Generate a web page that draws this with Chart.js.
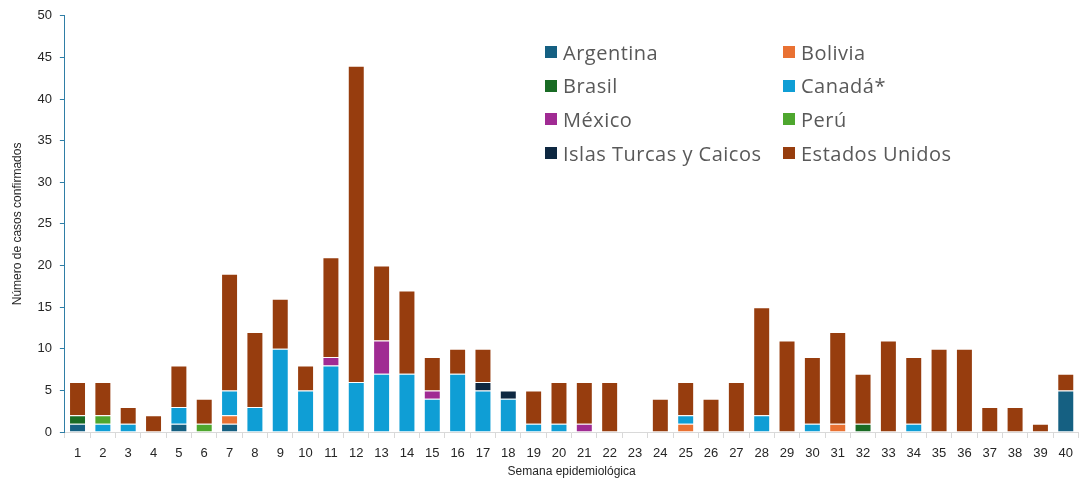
<!DOCTYPE html>
<html>
<head>
<meta charset="utf-8">
<script src="https://cdn.jsdelivr.net/npm/chart.js@4"></script>
<style>
  body { margin: 0; background: #fff; }
  #wrap { position: relative; width: 1081px; height: 481px; }
  #legend { position: absolute; left: 545px; top: 40px; display: grid;
    grid-template-columns: 238px 220px; row-gap: 9.7px;
    font-family: "Open Sans", Inter, sans-serif; font-size: 20px; letter-spacing: 0.5px; color: #595959; }
  #legend div { display: flex; align-items: center; height: 24px; white-space: nowrap; }
  #legend span.box { width: 12px; height: 12px; margin-right: 6px; display: inline-block; }
</style>
</head>
<body>
<div id="wrap">
  <canvas id="chart" width="1081" height="481"></canvas>
  <div id="legend"></div>
</div>
<script>
const weeks = Array.from({ length: 40 }, (_, i) => String(i + 1));

// casos por semana epidemiológica (1..40)
const argentina = [1,0,0,0,1,0,1,0,0,0, 0,0,0,0,0,0,0,0,0,0, 0,0,0,0,0,0,0,0,0,0, 0,0,0,0,0,0,0,0,0,5];
const bolivia   = [0,0,0,0,0,0,1,0,0,0, 0,0,0,0,0,0,0,0,0,0, 0,0,0,0,1,0,0,0,0,0, 1,0,0,0,0,0,0,0,0,0];
const brasil    = [1,0,0,0,0,0,0,0,0,0, 0,0,0,0,0,0,0,0,0,0, 0,0,0,0,0,0,0,0,0,0, 0,1,0,0,0,0,0,0,0,0];
const canada    = [0,1,1,0,2,0,3,3,10,5, 8,6,7,7,4,7,5,4,1,1, 0,0,0,0,1,0,0,2,0,1, 0,0,0,1,0,0,0,0,0,0];
const mexico    = [0,0,0,0,0,0,0,0,0,0, 1,0,4,0,1,0,0,0,0,0, 1,0,0,0,0,0,0,0,0,0, 0,0,0,0,0,0,0,0,0,0];
const peru      = [0,1,0,0,0,1,0,0,0,0, 0,0,0,0,0,0,0,0,0,0, 0,0,0,0,0,0,0,0,0,0, 0,0,0,0,0,0,0,0,0,0];
const turcas    = [0,0,0,0,0,0,0,0,0,0, 0,0,0,0,0,0,1,1,0,0, 0,0,0,0,0,0,0,0,0,0, 0,0,0,0,0,0,0,0,0,0];
const eeuu      = [4,4,2,2,5,3,14,9,6,3, 12,38,9,10,4,3,4,0,4,5, 5,6,0,4,4,4,6,13,11,8, 11,6,11,8,10,10,3,3,1,2];

const yTicks = [0, 5, 10, 15, 20, 25, 30, 35, 40, 45, 50];

const series = [
  { label: 'Argentina', data: argentina, color: '#156082' },
  { label: 'Bolivia', data: bolivia, color: '#E97132' },
  { label: 'Brasil', data: brasil, color: '#196B24' },
  { label: 'Canadá*', data: canada, color: '#0F9ED5' },
  { label: 'México', data: mexico, color: '#A02B93' },
  { label: 'Perú', data: peru, color: '#4EA72E' },
  { label: 'Islas Turcas y Caicos', data: turcas, color: '#0E2841' },
  { label: 'Estados Unidos', data: eeuu, color: '#973D0E' }
];

const legendElem = document.getElementById('legend');
series.forEach(s => {
  const item = document.createElement('div');
  item.innerHTML = `<span class="box" style="background:${s.color}"></span>${s.label}`;
  legendElem.appendChild(item);
});

Chart.defaults.font.family = '"Liberation Sans", Arial, sans-serif';
Chart.defaults.color = '#262626';

new Chart(document.getElementById('chart').getContext('2d'), {
  type: 'bar',
  data: {
    labels: weeks,
    datasets: series.map(s => ({
      label: s.label,
      data: s.data,
      backgroundColor: s.color,
      borderColor: 'rgba(255,255,255,0.45)',
      borderWidth: 1,
      barPercentage: 0.67,
      categoryPercentage: 1
    }))
  },
  options: {
    responsive: false,
    animation: false,
    layout: { padding: { top: 8, right: 0, bottom: 1, left: 6 } },
    plugins: { legend: { display: false }, tooltip: { enabled: false } },
    scales: {
      x: {
        stacked: true,
        grid: { drawOnChartArea: false, color: '#d9d9d9', tickLength: 6, offset: true },
        border: { color: '#d9d9d9', width: 1 },
        ticks: { font: { size: 13 }, color: '#262626', maxRotation: 0, padding: 8 },
        title: { display: true, text: 'Semana epidemiológica', font: { size: 12 }, color: '#262626', padding: { top: -5, bottom: 1 } }
      },
      y: {
        stacked: true,
        min: 0,
        max: 50,
        afterBuildTicks: axis => { axis.ticks = yTicks.map(v => ({ value: v })); },
        grid: { drawOnChartArea: false, color: '#2f7ea6', tickLength: 5 },
        border: { color: '#2f7ea6', width: 1 },
        ticks: { font: { size: 13 }, color: '#262626', padding: 8 },
        title: { display: true, text: 'Número de casos confirmados', font: { size: 12 }, color: '#262626', padding: { bottom: 5 } }
      }
    }
  }
});
</script>
</body>
</html>
